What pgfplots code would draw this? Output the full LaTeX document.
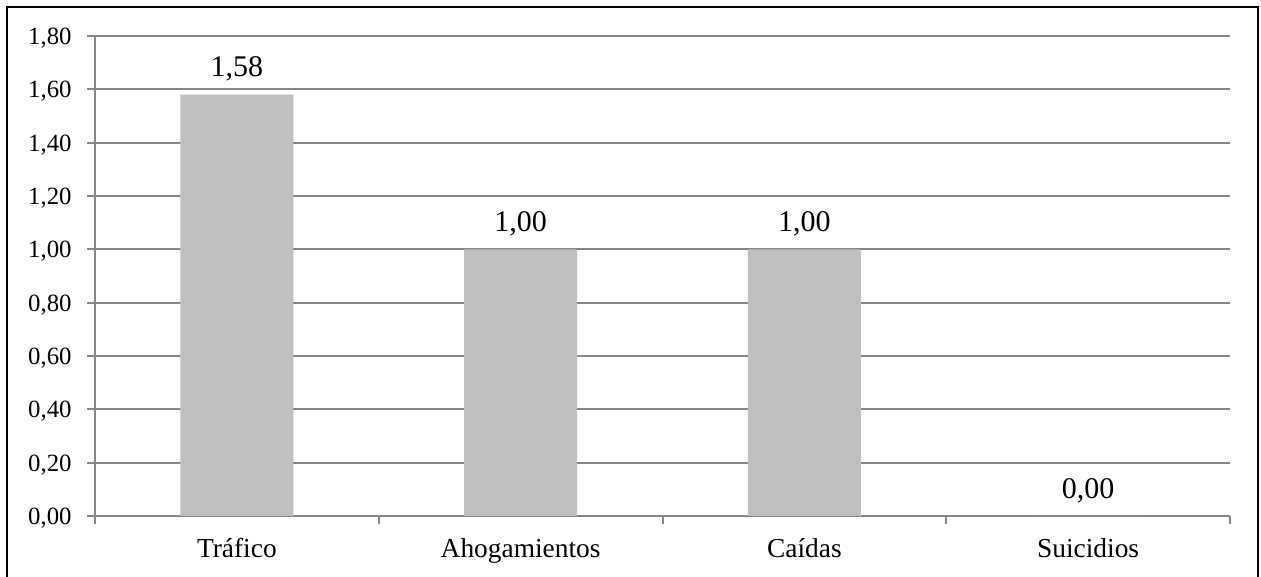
\documentclass[border=0pt]{standalone}
\usepackage{pgfplots}
\pgfplotsset{compat=1.18}
\usepackage{fontspec}
\setmainfont{Liberation Serif}
\definecolor{bargray}{HTML}{BFBFBF}
\definecolor{gridgray}{HTML}{868686}

\begin{document}
\begin{tikzpicture}
  \clip (0,0) rectangle (630.5pt,288.5pt);
  \fill[white] (0,0) rectangle (630.5pt,288.5pt);
  \begin{axis}[
    at={(47.5pt,30.5pt)}, anchor=south west,
    scale only axis,
    width=567.5pt, height=240pt,
    ybar, bar width=56.5pt,
    xmin=-0.5, xmax=3.5,
    ymin=0, ymax=1.8,
    ytick={0,0.2,...,1.8},
    xtick={-0.5,0.5,1.5,2.5,3.5},
    xticklabels={},
    extra x ticks={0,1,2,3},
    extra x tick labels={Tráfico,Ahogamientos,Caídas,Suicidios},
    extra x tick style={major tick length=0pt,
      xticklabel style={anchor=base, inner sep=0pt, yshift=-20.5pt,
        font=\fontsize{13.7}{15}\selectfont}},
    axis x line*=bottom,
    axis y line*=left,
    axis line style={gridgray, line width=1pt},
    tick style={gridgray, line width=1pt},
    tick align=outside,
    major tick length=4pt,
    ymajorgrids,
    grid style={gridgray, line width=1pt},
    /pgf/number format/assume math mode=true,
    /pgf/number format/fixed,
    /pgf/number format/fixed zerofill,
    /pgf/number format/precision=2,
    /pgf/number format/use comma,
    yticklabel style={anchor=base east, inner sep=0pt, yshift=-4.2pt, xshift=-7.5pt,
      font=\fontsize{12.4}{14}\selectfont},
    nodes near coords,
    every node near coord/.append style={anchor=base, inner sep=0pt, yshift=9pt,
      font=\fontsize{15}{17}\selectfont, black},
  ]
    \addplot[fill=bargray, draw=none] coordinates {
      (0,1.58) (1,1.00) (2,1.00) (3,0.00)
    };
  \end{axis}
  \draw[black, line width=1pt] (3.5pt,-5pt) rectangle (629pt,285pt);
\end{tikzpicture}
\end{document}
